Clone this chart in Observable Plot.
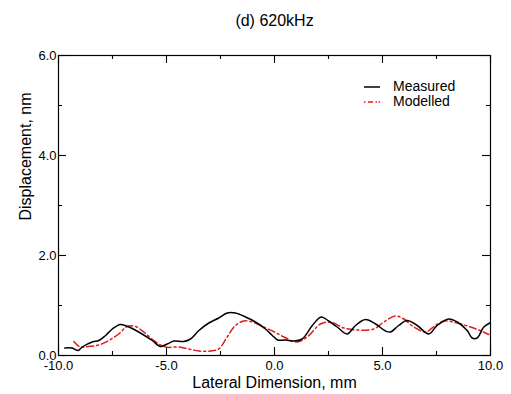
<!DOCTYPE html>
<html><head><meta charset="utf-8">
<script src="https://cdn.jsdelivr.net/npm/d3@7"></script>
<script src="https://cdn.jsdelivr.net/npm/@observablehq/plot@0.6"></script>
<style>
body{margin:0;background:#fff;font-family:"Liberation Sans",Arial,sans-serif;}
#wrap{position:relative;width:511px;height:394px;}
#legend{position:absolute;left:363px;top:79px;font-size:14px;color:#000;line-height:15px;}
#legend div{display:flex;align-items:center;height:15px;}
#legend svg{margin-right:12px;}
</style>
</head><body>
<div id="wrap"><div id="legend"></div></div>
<script>
const title = "(d) 620kHz";
const xLabel = "Lateral Dimension, mm";
const yLabel = "Displacement, nm";
const seriesNames = ["Measured", "Modelled"];
const seriesColors = ["#000000", "#e01b1b"];

const measuredX = [-9.71,-9.37,-9.09,-8.9,-8.44,-8.13,-7.82,-7.51,-7.13,-6.74,-6.13,-5.66,-5.28,-4.97,-4.66,-4.2,-3.89,-3.5,-3.04,-2.58,-2.19,-1.81,-1.34,-0.88,-0.42,-0.1,0.15,0.51,0.89,1.28,1.75,2.16,2.51,2.90,3.36,3.75,4.21,4.68,5.14,5.37,5.75,6.14,6.61,7.14,7.53,8.07,8.46,8.92,9.15,9.38,9.69,9.97];
const measuredY = [0.15,0.15,0.10,0.17,0.27,0.30,0.40,0.53,0.62,0.57,0.43,0.30,0.18,0.23,0.29,0.28,0.33,0.50,0.65,0.75,0.85,0.85,0.77,0.67,0.53,0.40,0.31,0.31,0.29,0.33,0.60,0.77,0.69,0.57,0.43,0.60,0.72,0.63,0.49,0.47,0.60,0.70,0.60,0.43,0.60,0.73,0.67,0.50,0.35,0.35,0.57,0.65];

const modelledX = [-9.29,-9.0,-8.6,-8.13,-7.67,-7.21,-6.82,-6.44,-6.05,-5.59,-5.05,-4.43,-3.97,-3.5,-2.96,-2.58,-2.19,-1.81,-1.42,-1.03,-0.5,0.0,0.43,1.05,1.51,2.13,2.59,3.21,3.83,4.6,5.06,5.6,5.99,6.45,6.99,7.45,7.84,8.46,9.07,9.46,9.92];
const modelledY = [0.28,0.17,0.18,0.21,0.30,0.43,0.58,0.58,0.47,0.30,0.17,0.17,0.13,0.09,0.09,0.13,0.37,0.60,0.69,0.67,0.57,0.47,0.37,0.27,0.37,0.63,0.67,0.55,0.51,0.53,0.67,0.79,0.73,0.57,0.47,0.60,0.69,0.65,0.57,0.51,0.42];

const xMajor = [-10,-5,0,5,10];
const xMinor = [-7.5,-2.5,2.5,7.5];
const yMajor = [0,2,4,6];
const yMinor = [1,3,5];

const measured = measuredX.map((x,i)=>({x, y: measuredY[i]}));
const modelled = modelledX.map((x,i)=>({x, y: modelledY[i]}));
const dash = "7,3,2,3";

const W = 511, H = 394, mL = 58, mR = 21, mT = 55, mB = 39;
const fw = W - mL - mR, fh = H - mT - mB;
const MAJ = 8, MIN = 4;
const tickStyle = {stroke: "#000", strokeWidth: 1.1};

const chart = Plot.plot({
  width: W, height: H,
  marginLeft: mL, marginRight: mR, marginTop: mT, marginBottom: mB,
  style: {fontFamily: '"Liberation Sans", Arial, sans-serif', fontSize: "13px", background: "#fff", color: "#000"},
  x: {domain: [-10, 10]},
  y: {domain: [0, 6]},
  marks: [
    Plot.frame({stroke: "#000", strokeWidth: 1.2}),
    Plot.axisX({ticks: xMajor, tickSize: 0, tickPadding: 5, tickFormat: d => d.toFixed(1), label: null, fontSize: 13}),
    Plot.axisY({ticks: yMajor, tickSize: 0, tickPadding: 2, tickFormat: d => d.toFixed(1), label: null, fontSize: 13}),
    // inward ticks: bottom & top
    Plot.ruleX(xMajor, {x: d => d, insetTop: fh - MAJ, ...tickStyle}),
    Plot.ruleX(xMinor, {x: d => d, insetTop: fh - MIN, ...tickStyle}),
    Plot.ruleX(xMajor, {x: d => d, insetBottom: fh - MAJ, ...tickStyle}),
    Plot.ruleX(xMinor, {x: d => d, insetBottom: fh - MIN, ...tickStyle}),
    // inward ticks: left & right
    Plot.ruleY(yMajor, {y: d => d, insetRight: fw - MAJ, ...tickStyle}),
    Plot.ruleY(yMinor, {y: d => d, insetRight: fw - MIN, ...tickStyle}),
    Plot.ruleY(yMajor, {y: d => d, insetLeft: fw - MAJ, ...tickStyle}),
    Plot.ruleY(yMinor, {y: d => d, insetLeft: fw - MIN, ...tickStyle}),
    // data
    Plot.line(modelled, {x: "x", y: "y", stroke: seriesColors[1], strokeWidth: 1.5, strokeDasharray: dash, curve: "catmull-rom"}),
    Plot.line(measured, {x: "x", y: "y", stroke: seriesColors[0], strokeWidth: 1.5, curve: "catmull-rom"}),
    // text
    Plot.text([title], {frameAnchor: "top", dy: -35, lineAnchor: "middle", fontSize: 16}),
    Plot.text([xLabel], {frameAnchor: "bottom", dy: 27, lineAnchor: "middle", fontSize: 16}),
    Plot.text([yLabel], {frameAnchor: "left", dx: -33, dy: 15, rotate: -90, lineAnchor: "middle", fontSize: 16})
  ]
});
const wrap = document.getElementById("wrap");
wrap.insertBefore(chart, wrap.firstChild);

const legend = document.getElementById("legend");
seriesNames.forEach((name, i) => {
  const row = document.createElement("div");
  const da = i === 1 ? ' stroke-dasharray="1.5,2.5,5,2.5,1.5"' : '';
  row.innerHTML = `<svg width="18" height="6"><line x1="1" x2="17" y1="3" y2="3" stroke="${seriesColors[i]}" stroke-width="1.5"${da}/></svg><span>${name}</span>`;
  legend.appendChild(row);
});
</script>
</body></html>
